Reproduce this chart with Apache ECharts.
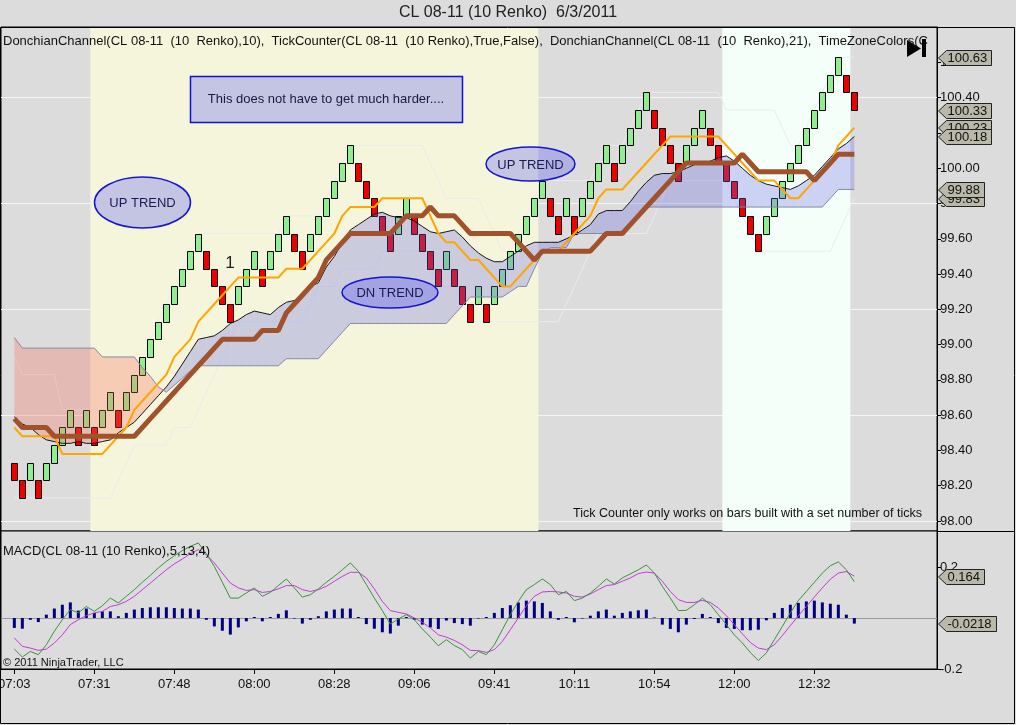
<!DOCTYPE html>
<html lang="en">
<head>
    <meta charset="UTF-8">
    <title>CL 08-11 (10 Renko) 6/3/2011</title>
    <script type="text/javascript" src="https://cdn.jsdelivr.net/npm/echarts@6.0.0/dist/echarts.min.js"></script>
    <style>
        html, body { margin: 0; padding: 0; background: #DCDCDC; }
        #chart { width: 1016px; height: 725px; }
    </style>
</head>
<body>
<div id="chart"></div>
<script type="text/javascript">
    // time axis: a label every 10 bricks
    var timeTickBars = [0, 10, 20, 30, 40, 50, 60, 70, 80, 90, 100];
    var timeLabels = ['07:03', '07:31', '07:48', '08:00', '08:28', '09:06', '09:41', '10:11', '10:54', '12:00', '12:32'];

    var priceTicks = [98.0, 98.2, 98.4, 98.6, 98.8, 99.0, 99.2, 99.4, 99.6, 99.8, 100.0, 100.2, 100.4, 100.6];
    var priceGrid = [98.0, 98.6, 99.2, 99.8, 100.4];
    var macdTicks = [-0.2, 0.2];

    // TimeZoneColors bands (in bars)
    var zoneBeige = [9.5, 65.5];
    var zoneMint = [88.5, 104.5];

    // renko bricks (10 ticks)
    var brickOpen = [
        98.33, 98.23, 98.23, 98.23, 98.23, 98.33, 98.43, 98.53, 98.53, 98.53,
        98.53, 98.53, 98.63, 98.63, 98.63, 98.73, 98.83, 98.93, 99.03, 99.13,
        99.23, 99.33, 99.43, 99.53, 99.53, 99.43, 99.33, 99.23, 99.23, 99.33,
        99.43, 99.43, 99.43, 99.53, 99.63, 99.63, 99.53, 99.53, 99.63, 99.73,
        99.83, 99.93, 100.03, 100.03, 99.93, 99.83, 99.73, 99.63, 99.63, 99.73,
        99.73, 99.63, 99.53, 99.43, 99.43, 99.43, 99.33, 99.23, 99.23, 99.23,
        99.23, 99.33, 99.43, 99.53, 99.63, 99.73, 99.83, 99.83, 99.73, 99.73,
        99.73, 99.73, 99.83, 99.93, 100.03, 100.03, 100.03, 100.13, 100.23, 100.33,
        100.33, 100.23, 100.13, 100.03, 100.03, 100.13, 100.23, 100.23, 100.13, 100.03,
        99.93, 99.83, 99.73, 99.63, 99.63, 99.73, 99.83, 99.93, 100.03, 100.13,
        100.23, 100.33, 100.43, 100.53, 100.53, 100.43
    ];
    var brickClose = [
        98.23, 98.13, 98.33, 98.13, 98.33, 98.43, 98.53, 98.63, 98.43, 98.63,
        98.43, 98.63, 98.73, 98.53, 98.73, 98.83, 98.93, 99.03, 99.13, 99.23,
        99.33, 99.43, 99.53, 99.63, 99.43, 99.33, 99.23, 99.13, 99.33, 99.43,
        99.53, 99.33, 99.53, 99.63, 99.73, 99.53, 99.43, 99.63, 99.73, 99.83,
        99.93, 100.03, 100.13, 99.93, 99.83, 99.73, 99.63, 99.53, 99.73, 99.83,
        99.63, 99.53, 99.43, 99.33, 99.53, 99.33, 99.23, 99.13, 99.33, 99.13,
        99.33, 99.43, 99.53, 99.63, 99.73, 99.83, 99.93, 99.73, 99.63, 99.83,
        99.63, 99.83, 99.93, 100.03, 100.13, 99.93, 100.13, 100.23, 100.33, 100.43,
        100.23, 100.13, 100.03, 99.93, 100.13, 100.23, 100.33, 100.13, 100.03, 99.93,
        99.83, 99.73, 99.63, 99.53, 99.73, 99.83, 99.93, 100.03, 100.13, 100.23,
        100.33, 100.43, 100.53, 100.63, 100.43, 100.33
    ];

    // DonchianChannel(10) mean / upper / lower
    var d10Mean = [
        98.53, 98.48, 98.48, 98.48, 98.48, 98.48, 98.38, 98.38, 98.38, 98.38,
        98.38, 98.38, 98.43, 98.48, 98.53, 98.63, 98.68, 98.73, 98.78, 98.83,
        98.93, 98.98, 99.03, 99.13, 99.18, 99.23, 99.28, 99.33, 99.38, 99.38,
        99.38, 99.38, 99.38, 99.38, 99.43, 99.43, 99.43, 99.48, 99.53, 99.58,
        99.63, 99.73, 99.78, 99.78, 99.78, 99.78, 99.83, 99.83, 99.83, 99.83,
        99.83, 99.83, 99.73, 99.63, 99.58, 99.58, 99.53, 99.48, 99.48, 99.43,
        99.38, 99.33, 99.33, 99.38, 99.43, 99.48, 99.53, 99.53, 99.53, 99.58,
        99.63, 99.68, 99.73, 99.83, 99.88, 99.88, 99.88, 99.93, 99.98, 100.03,
        100.08, 100.13, 100.18, 100.18, 100.18, 100.18, 100.18, 100.18, 100.18, 100.13,
        100.08, 100.03, 99.98, 99.93, 99.93, 99.93, 99.88, 99.83, 99.83, 99.88,
        99.93, 99.98, 100.03, 100.13, 100.18, 100.23
    ];
    var d10Upper = [
        98.93, 98.83, 98.83, 98.83, 98.83, 98.83, 98.63, 98.63, 98.63, 98.63,
        98.63, 98.63, 98.73, 98.73, 98.73, 98.83, 98.93, 99.03, 99.13, 99.23,
        99.33, 99.43, 99.53, 99.63, 99.63, 99.63, 99.63, 99.63, 99.63, 99.63,
        99.63, 99.63, 99.63, 99.63, 99.73, 99.73, 99.73, 99.73, 99.73, 99.83,
        99.93, 100.03, 100.13, 100.13, 100.13, 100.13, 100.13, 100.13, 100.13, 100.13,
        100.13, 100.13, 100.03, 99.93, 99.83, 99.83, 99.83, 99.83, 99.83, 99.73,
        99.63, 99.53, 99.53, 99.63, 99.73, 99.83, 99.93, 99.93, 99.93, 99.93,
        99.93, 99.93, 99.93, 100.03, 100.13, 100.13, 100.13, 100.23, 100.33, 100.43,
        100.43, 100.43, 100.43, 100.43, 100.43, 100.43, 100.43, 100.43, 100.43, 100.33,
        100.33, 100.33, 100.33, 100.33, 100.33, 100.33, 100.23, 100.13, 100.13, 100.23,
        100.33, 100.43, 100.53, 100.63, 100.63, 100.63
    ];
    var d10Lower = [
        98.13, 98.13, 98.13, 98.13, 98.13, 98.13, 98.13, 98.13, 98.13, 98.13,
        98.13, 98.13, 98.13, 98.23, 98.33, 98.43, 98.43, 98.43, 98.43, 98.43,
        98.53, 98.53, 98.53, 98.63, 98.73, 98.83, 98.93, 99.03, 99.13, 99.13,
        99.13, 99.13, 99.13, 99.13, 99.13, 99.13, 99.13, 99.23, 99.33, 99.33,
        99.33, 99.43, 99.43, 99.43, 99.43, 99.43, 99.53, 99.53, 99.53, 99.53,
        99.53, 99.53, 99.43, 99.33, 99.33, 99.33, 99.23, 99.13, 99.13, 99.13,
        99.13, 99.13, 99.13, 99.13, 99.13, 99.13, 99.13, 99.13, 99.13, 99.23,
        99.33, 99.43, 99.53, 99.63, 99.63, 99.63, 99.63, 99.63, 99.63, 99.63,
        99.73, 99.83, 99.93, 99.93, 99.93, 99.93, 99.93, 99.93, 99.93, 99.93,
        99.83, 99.73, 99.63, 99.53, 99.53, 99.53, 99.53, 99.53, 99.53, 99.53,
        99.53, 99.53, 99.53, 99.63, 99.73, 99.83
    ];

    // DonchianChannel(21) mean
    var d21Mean = [
        98.58, 98.53, 98.53, 98.53, 98.53, 98.48, 98.48, 98.48, 98.48, 98.48,
        98.48, 98.48, 98.48, 98.48, 98.48, 98.48, 98.53, 98.58, 98.63, 98.68,
        98.73, 98.78, 98.83, 98.88, 98.93, 98.98, 99.03, 99.03, 99.03, 99.03,
        99.03, 99.08, 99.08, 99.08, 99.18, 99.23, 99.28, 99.33, 99.38, 99.48,
        99.53, 99.58, 99.63, 99.63, 99.63, 99.63, 99.63, 99.63, 99.68, 99.73,
        99.73, 99.73, 99.78, 99.73, 99.73, 99.73, 99.68, 99.63, 99.63, 99.63,
        99.63, 99.63, 99.63, 99.58, 99.53, 99.48, 99.53, 99.53, 99.53, 99.53,
        99.53, 99.53, 99.53, 99.58, 99.63, 99.63, 99.63, 99.68, 99.73, 99.78,
        99.83, 99.88, 99.93, 99.98, 100.03, 100.03, 100.03, 100.03, 100.03, 100.03,
        100.03, 100.08, 100.03, 99.98, 99.98, 99.98, 99.98, 99.98, 99.98, 99.98,
        99.93, 99.98, 100.03, 100.08, 100.08, 100.08
    ];

    // shaded band: thin black line (A) and grey line (B)
    var cloudA = [
        98.59, 98.55, 98.53, 98.49, 98.46, 98.45, 98.44, 98.44, 98.45, 98.44,
        98.44, 98.45, 98.46, 98.50, 98.53, 98.56, 98.61, 98.66, 98.71, 98.76,
        98.82, 98.89, 98.96, 99.03, 99.04, 99.05, 99.08, 99.12, 99.14, 99.17,
        99.19, 99.18, 99.17, 99.21, 99.24, 99.25, 99.29, 99.33, 99.35, 99.44,
        99.50, 99.58, 99.65, 99.68, 99.71, 99.74, 99.75, 99.73, 99.72, 99.72,
        99.70, 99.67, 99.64, 99.63, 99.64, 99.65, 99.61, 99.56, 99.52, 99.49,
        99.47, 99.47, 99.50, 99.53, 99.56, 99.58, 99.58, 99.58, 99.58, 99.60,
        99.62, 99.65, 99.68, 99.74, 99.76, 99.76, 99.76, 99.81, 99.87, 99.92,
        99.96, 99.97, 99.97, 99.98, 100.00, 100.02, 100.03, 100.04, 100.06, 100.07,
        100.04, 100.00, 99.96, 99.93, 99.91, 99.90, 99.89, 99.88, 99.90, 99.93,
        99.96, 100.01, 100.06, 100.11, 100.14, 100.18
    ];
    var cloudB = [
        99.04, 98.98, 98.98, 98.98, 98.98, 98.98, 98.98, 98.98, 98.98, 98.98,
        98.98, 98.93, 98.93, 98.93, 98.93, 98.93, 98.87, 98.82, 98.76, 98.73,
        98.77, 98.81, 98.85, 98.88, 98.88, 98.88, 98.88, 98.88, 98.88, 98.88,
        98.88, 98.88, 98.88, 98.88, 98.92, 98.92, 98.92, 98.92, 98.92, 98.97,
        99.02, 99.07, 99.12, 99.12, 99.12, 99.12, 99.12, 99.12, 99.12, 99.12,
        99.12, 99.12, 99.12, 99.12, 99.12, 99.17, 99.22, 99.27, 99.27, 99.27,
        99.27, 99.27, 99.30, 99.33, 99.33, 99.43, 99.52, 99.55, 99.55, 99.55,
        99.63, 99.63, 99.63, 99.63, 99.63, 99.63, 99.63, 99.68, 99.73, 99.78,
        99.78, 99.78, 99.78, 99.78, 99.78, 99.78, 99.78, 99.78, 99.78, 99.78,
        99.78, 99.78, 99.78, 99.78, 99.78, 99.78, 99.78, 99.78, 99.78, 99.78,
        99.78, 99.78, 99.83, 99.88, 99.88, 99.88
    ];

    // MACD(5,13,4)
    var macdLine = [
        -0.122, -0.153, -0.131, -0.144, -0.105, -0.052, -0.007, 0.033, 0.020, 0.045,
        0.026, 0.048, 0.078, 0.059, 0.085, 0.111, 0.140, 0.167, 0.196, 0.222,
        0.244, 0.264, 0.281, 0.294, 0.252, 0.202, 0.140, 0.078, 0.078, 0.098,
        0.118, 0.085, 0.100, 0.127, 0.153, 0.118, 0.082, 0.091, 0.114, 0.140,
        0.163, 0.189, 0.216, 0.183, 0.131, 0.078, 0.029, -0.024, -0.004, 0.013,
        -0.007, -0.043, -0.075, -0.109, -0.085, -0.108, -0.124, -0.157, -0.131, -0.144,
        -0.105, -0.046, 0.013, 0.065, 0.111, 0.131, 0.153, 0.131, 0.091, 0.104,
        0.068, 0.078, 0.098, 0.124, 0.153, 0.133, 0.157, 0.173, 0.189, 0.208,
        0.176, 0.124, 0.078, 0.029, 0.030, 0.052, 0.078, 0.052, 0.013, -0.026,
        -0.066, -0.098, -0.135, -0.167, -0.137, -0.085, -0.033, 0.020, 0.068, 0.104,
        0.140, 0.176, 0.205, 0.220, 0.189, 0.142
    ];
    var macdAvg = [
        -0.078, -0.111, -0.118, -0.127, -0.122, -0.098, -0.066, -0.026, -0.007, 0.009,
        0.020, 0.026, 0.045, 0.052, 0.065, 0.085, 0.111, 0.137, 0.163, 0.189,
        0.212, 0.231, 0.252, 0.268, 0.248, 0.216, 0.176, 0.137, 0.118, 0.108,
        0.111, 0.100, 0.104, 0.114, 0.127, 0.127, 0.111, 0.104, 0.111, 0.124,
        0.144, 0.163, 0.179, 0.179, 0.157, 0.114, 0.065, 0.029, 0.022, 0.016,
        0.000, -0.017, -0.039, -0.066, -0.075, -0.088, -0.105, -0.127, -0.128, -0.135,
        -0.124, -0.092, -0.046, 0.000, 0.048, 0.085, 0.102, 0.104, 0.102, 0.098,
        0.085, 0.082, 0.094, 0.111, 0.127, 0.131, 0.144, 0.157, 0.174, 0.180,
        0.176, 0.144, 0.104, 0.072, 0.061, 0.061, 0.069, 0.061, 0.039, 0.009,
        -0.026, -0.062, -0.096, -0.118, -0.124, -0.105, -0.069, -0.030, 0.008, 0.045,
        0.082, 0.118, 0.152, 0.176, 0.182, 0.164
    ];
    var macdDiff = [
        -0.039, -0.042, -0.007, -0.016, 0.013, 0.037, 0.052, 0.061, 0.029, 0.037,
        0.020, 0.026, 0.026, 0.007, 0.020, 0.033, 0.039, 0.042, 0.042, 0.042,
        0.039, 0.037, 0.037, 0.033, -0.007, -0.033, -0.050, -0.065, -0.037, -0.013,
        0.004, -0.013, 0.004, 0.016, 0.030, -0.002, -0.022, -0.007, 0.007, 0.026,
        0.033, 0.037, 0.037, 0.004, -0.024, -0.042, -0.056, -0.061, -0.030, 0.004,
        -0.007, -0.026, -0.037, -0.043, -0.010, -0.020, -0.024, -0.030, -0.002, 0.004,
        0.020, 0.039, 0.050, 0.061, 0.068, 0.065, 0.059, 0.026, -0.007, 0.004,
        -0.017, -0.002, 0.009, 0.026, 0.033, 0.009, 0.020, 0.026, 0.030, 0.033,
        0.002, -0.026, -0.043, -0.056, -0.026, -0.004, 0.016, 0.004, -0.020, -0.039,
        -0.043, -0.048, -0.048, -0.046, -0.009, 0.020, 0.039, 0.052, 0.059, 0.065,
        0.068, 0.061, 0.056, 0.052, 0.013, -0.022
    ];

    // last-value markers on the right axes
    var priceTags = [100.63, 100.33, 100.23, 100.18, 99.83, 99.88];
    var macdTags = [0.164, -0.0218];

    var FONT = '"Liberation Sans", Arial, sans-serif';
    var xMin = -1.667, xMax = 115.333;

    function pairs(arr) {
        return arr.map(function (v, i) { return [i, v]; });
    }

    var brickData = brickOpen.map(function (o, i) { return [i, o, brickClose[i]]; });
    var cloudData = [];
    for (var i = 0; i < cloudA.length - 1; i++) {
        cloudData.push([i, cloudA[i], cloudB[i], cloudA[i + 1], cloudB[i + 1]]);
    }

    function renderBrick(params, api) {
        var i = api.value(0), o = api.value(1), c = api.value(2);
        var top = api.coord([i, Math.max(o, c)]);
        var bot = api.coord([i, Math.min(o, c)]);
        var x = Math.round(top[0] - 3) + 0.5;
        var y0 = Math.round(top[1]) + 0.5, y1 = Math.round(bot[1]) + 0.5;
        return {
            type: 'rect',
            shape: { x: x, y: y0, width: 6, height: y1 - y0 },
            style: { fill: c > o ? '#90EE90' : '#EE0000', stroke: '#000', lineWidth: 1 }
        };
    }

    var BLUE = 'rgba(105,105,230,0.30)', PINK = 'rgba(250,110,90,0.30)';
    function renderCloud(params, api) {
        var i = api.value(0), a0 = api.value(1), b0 = api.value(2), a1 = api.value(3), b1 = api.value(4);
        var d0 = a0 - b0, d1 = a1 - b1;
        var kids = [];
        function poly(pts, col) {
            kids.push({
                type: 'polygon',
                shape: { points: pts.map(function (p) { return api.coord(p); }) },
                style: { fill: col }
            });
        }
        if (d0 * d1 < 0) {
            var t = d0 / (d0 - d1);
            var xm = i + t, ym = a0 + (a1 - a0) * t;
            poly([[i, a0], [xm, ym], [i, b0]], d0 > 0 ? BLUE : PINK);
            poly([[xm, ym], [i + 1, a1], [i + 1, b1]], d1 > 0 ? BLUE : PINK);
        } else {
            poly([[i, a0], [i + 1, a1], [i + 1, b1], [i, b0]], (d0 + d1) >= 0 ? BLUE : PINK);
        }
        return { type: 'group', children: kids };
    }

    function lineSeries(data, color, width, z, gi) {
        return {
            type: 'line', xAxisIndex: gi, yAxisIndex: gi, data: pairs(data),
            showSymbol: false, symbol: 'none', silent: true, z: z,
            lineStyle: { color: color, width: width },
            emphasis: { disabled: true }
        };
    }

    var chart = echarts.init(document.getElementById('chart'));

    // white grid lines sit under the time-zone bands
    var gridHolder = lineSeries(d10Lower, 'rgba(0,0,0,0)', 0, 0, 0);
    gridHolder.markLine = {
        silent: true, z: 0, symbol: ['none', 'none'], label: { show: false },
        lineStyle: { color: '#F6F6F6', width: 1, type: 'solid' },
        data: priceGrid.map(function (v) { return { yAxis: v }; })
    };

    var upperSeries = lineSeries(d10Upper, '#EBEBEB', 1, 1, 0);
    upperSeries.markArea = {
        silent: true, z: 1,
        data: [
            [{ xAxis: zoneBeige[0], itemStyle: { color: '#F5F5DC' } }, { xAxis: zoneBeige[1] }],
            [{ xAxis: zoneMint[0], itemStyle: { color: '#F5FFFA' } }, { xAxis: zoneMint[1] }]
        ]
    };

    var diffSeries = {
        type: 'bar', xAxisIndex: 1, yAxisIndex: 1, data: pairs(macdDiff),
        barWidth: 3, silent: true, itemStyle: { color: '#000080' }, z: 3,
        markLine: {
            silent: true, z: 2, symbol: ['none', 'none'], label: { show: false },
            lineStyle: { color: '#999', width: 1, type: 'solid' },
            data: [{ yAxis: 0 }]
        }
    };

    var option = {
        animation: false,
        backgroundColor: '#DCDCDC',
        grid: [
            { left: 1, top: 27, width: 936, height: 504, show: true, backgroundColor: '#DCDCDC',
              borderColor: '#000', borderWidth: 1, containLabel: false, outerBoundsMode: 'none' },
            { left: 1, top: 531, width: 936, height: 138, show: true, backgroundColor: '#DCDCDC',
              borderColor: '#000', borderWidth: 1, containLabel: false, outerBoundsMode: 'none' }
        ],
        xAxis: [
            { type: 'value', gridIndex: 0, min: xMin, max: xMax,
              axisLine: { show: false }, axisTick: { show: false }, axisLabel: { show: false }, splitLine: { show: false } },
            { type: 'value', gridIndex: 1, min: xMin, max: xMax,
              axisLine: { show: true, onZero: false, lineStyle: { color: '#000', width: 1 } },
              axisTick: { show: true, customValues: timeTickBars, length: 5, lineStyle: { color: '#000' } },
              axisLabel: {
                  show: true, customValues: timeTickBars, margin: 9,
                  color: '#111', fontSize: 13, fontFamily: FONT,
                  formatter: function (v) { return timeLabels[timeTickBars.indexOf(Math.round(v))] || ''; }
              },
              splitLine: { show: false } }
        ],
        yAxis: [
            { type: 'value', gridIndex: 0, position: 'right', min: 97.943, max: 100.801,
              axisLine: { show: true, onZero: false, lineStyle: { color: '#000', width: 1 } },
              axisTick: { show: true, customValues: priceTicks, length: 4, lineStyle: { color: '#000' } },
              axisLabel: { show: true, customValues: priceTicks, margin: 3, color: '#111', fontSize: 13, fontFamily: FONT,
                           formatter: function (v) { return v.toFixed(2); } },
              splitLine: { show: false } },
            { type: 'value', gridIndex: 1, position: 'right', min: -0.2, max: 0.341,
              axisLine: { show: true, onZero: false, lineStyle: { color: '#000', width: 1 } },
              axisTick: { show: true, customValues: macdTicks, length: 4, lineStyle: { color: '#000' } },
              axisLabel: { show: true, customValues: macdTicks, margin: 3, color: '#111', fontSize: 13, fontFamily: FONT,
                           formatter: function (v) { return String(Math.round(v * 10) / 10); } },
              splitLine: { show: false } }
        ],
        series: [
            gridHolder,
            upperSeries,
            lineSeries(d10Lower, '#EBEBEB', 1, 1, 0),
            { type: 'custom', xAxisIndex: 0, yAxisIndex: 0, data: brickData, renderItem: renderBrick,
              encode: { x: 0, y: [1, 2] }, clip: true, silent: true, z: 3 },
            { type: 'custom', xAxisIndex: 0, yAxisIndex: 0, data: cloudData, renderItem: renderCloud,
              encode: { x: 0, y: [1, 2] }, clip: true, silent: true, z: 4 },
            lineSeries(cloudA, '#151515', 1, 5, 0),
            lineSeries(cloudB, '#8388A6', 1, 5, 0),
            lineSeries(d10Mean, '#FFA500', 2, 6, 0),
            lineSeries(d21Mean, '#A0522D', 5, 7, 0),
            diffSeries,
            lineSeries(macdAvg, '#C23BD8', 1, 4, 1),
            lineSeries(macdLine, '#3F8F3F', 1, 5, 1)
        ]
    };
    chart.setOption(option);

    // annotations, labels and right-axis value tags
    var measure = document.createElement('canvas').getContext('2d');
    function txt(x, y, s, size, color, align) {
        return { type: 'text', x: x, y: y, z: 100, silent: true,
                 style: { text: s, font: size + 'px ' + FONT, fill: color, align: align || 'left', verticalAlign: 'middle' } };
    }
    function ellipse(cx, cy, rx, ry, label) {
        return [
            { type: 'ellipse', z: 100, silent: true, shape: { cx: cx, cy: cy, rx: rx, ry: ry },
              style: { fill: 'rgba(0,0,255,0.2)', stroke: '#1515D0', lineWidth: 1.5 } },
            txt(cx, cy + 1, label, 13, '#1a1a50', 'center')
        ];
    }
    function tag(y, s, z) {
        measure.font = '13px ' + FONT;
        var w = measure.measureText(s).width;
        var x0 = 938.5, body = x0 + 8, right = Math.round(body + w + 5) + 0.5;
        var yt = Math.round(y - 7.5) + 0.5, yb = yt + 15;
        return [
            { type: 'polygon', z: z, silent: true,
              shape: { points: [[x0, (yt + yb) / 2], [body, yt], [right, yt], [right, yb], [body, yb]] },
              style: { fill: '#B9B8A9', stroke: '#222', lineWidth: 1 } },
            { type: 'text', z: z + 1, x: body + 1, y: (yt + yb) / 2 + 0.5, silent: true,
              style: { text: s, font: '13px ' + FONT, fill: '#111', align: 'left', verticalAlign: 'middle' } }
        ];
    }

    var g = [];
    g.push({ type: 'rect', z: 99, silent: true, shape: { x: 0.5, y: 27.5, width: 1014, height: 696 },
             style: { fill: null, stroke: '#000', lineWidth: 1 } });
    g.push({ type: 'line', z: 99, silent: true, shape: { x1: 937, y1: 531.5, x2: 1015, y2: 531.5 },
             style: { stroke: '#000', lineWidth: 1 } });
    g.push(txt(508, 13, 'CL 08-11 (10 Renko)  6/3/2011', 16, '#222', 'center'));
    var legendText = txt(3, 41, 'DonchianChannel(CL 08-11  (10  Renko),10),  TickCounter(CL 08-11  (10 Renko),True,False),  DonchianChannel(CL 08-11  (10  Renko),21),  TimeZoneColors(CL 08-11  (10  Renko))', 13, '#111');
    legendText.style.width = 932;
    legendText.style.overflow = 'truncate';
    legendText.style.ellipsis = '';
    g.push(legendText);
    g.push({ type: 'polygon', z: 101, silent: true, shape: { points: [[907, 40], [921, 48.5], [907, 57]] }, style: { fill: '#000' } });
    g.push({ type: 'rect', z: 101, silent: true, shape: { x: 922, y: 39, width: 4, height: 18 }, style: { fill: '#000' } });
    g.push({ type: 'rect', z: 100, silent: true, shape: { x: 190.5, y: 76.5, width: 272, height: 46 },
             style: { fill: 'rgba(0,0,255,0.2)', stroke: '#1010D0', lineWidth: 1.5 } });
    g.push(txt(326, 99, 'This does not have to get much harder....', 13, '#1a1a40', 'center'));
    g = g.concat(ellipse(142.5, 202.5, 48, 25.5, 'UP TREND'));
    g = g.concat(ellipse(530.5, 164, 44.5, 17, 'UP TREND'));
    g = g.concat(ellipse(390, 292.5, 48, 15.5, 'DN TREND'));
    g.push(txt(230, 263, '1', 17, '#222', 'center'));
    g.push(txt(922, 514, 'Tick Counter only works on bars built with a set number of ticks', 12.5, '#111', 'right'));
    g.push(txt(3, 551, 'MACD(CL 08-11 (10 Renko),5,13,4)', 13, '#111'));
    g.push(txt(3, 663, '\u00A9 2011 NinjaTrader, LLC', 11, '#111'));

    var z = 110;
    priceTags.forEach(function (v) {
        var y = chart.convertToPixel({ gridIndex: 0 }, [0, v])[1];
        g = g.concat(tag(y, v.toFixed(2), z));
        z += 2;
    });
    macdTags.forEach(function (v) {
        var y = chart.convertToPixel({ gridIndex: 1 }, [0, v])[1];
        g = g.concat(tag(y, String(v), z));
        z += 2;
    });

    chart.setOption({ graphic: g });
</script>
</body>
</html>
